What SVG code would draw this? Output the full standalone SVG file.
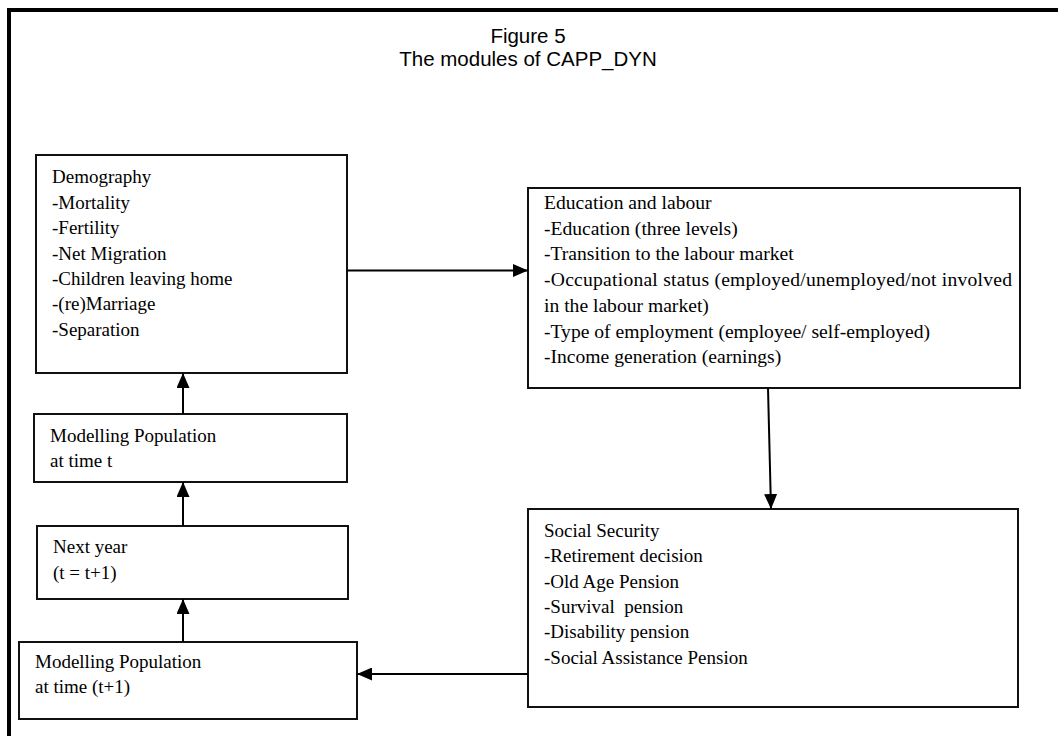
<svg xmlns="http://www.w3.org/2000/svg" width="1058" height="736" viewBox="0 0 1058 736">
  <defs>
    <style>
      .box { fill: #ffffff; stroke: #111111; stroke-width: 2; }
      .t { font-family: "Liberation Sans Narrow", "Liberation Serif", "Times New Roman", serif; font-family: "Liberation Serif", "Times New Roman", serif; font-size: 19px; fill: #000000; }
      .te { font-size: 19.6px; }
      .title { font-family: "Liberation Sans", Arial, sans-serif; font-size: 20.5px; fill: #000000; text-anchor: middle; }
      .conn { stroke: #000000; stroke-width: 2; fill: none; marker-end: url(#arrow); }
    </style>
    <marker id="arrow" viewBox="0 0 15 13" refX="15" refY="6.5" markerWidth="15" markerHeight="13" markerUnits="userSpaceOnUse" orient="auto">
      <path d="M0,0 L15,6.5 L0,13 Z" fill="#000000"/>
    </marker>
  </defs>
  <rect x="0" y="0" width="1058" height="736" fill="#ffffff"/>
  <g id="frame">
    <path d="M9,736 L9,10 L1058,10" fill="none" stroke="#000000" stroke-width="4"/>
  </g>
  <g id="title">
    <text class="title" x="528" y="43">Figure 5</text>
    <text class="title" x="528" y="66">The modules of CAPP_DYN</text>
  </g>
  <g id="demography">
    <rect class="box" x="36" y="155" width="311" height="218"/>
    <text class="t" x="52" y="183">Demography</text>
    <text class="t" x="52" y="208.5">-Mortality</text>
    <text class="t" x="52" y="234">-Fertility</text>
    <text class="t" x="52" y="259.5">-Net Migration</text>
    <text class="t" x="52" y="285">-Children leaving home</text>
    <text class="t" x="52" y="310">-(re)Marriage</text>
    <text class="t" x="52" y="335.5">-Separation</text>
  </g>
  <g id="education">
    <rect class="box" x="528" y="188" width="492" height="200"/>
    <text class="t te" x="544" y="209">Education and labour</text>
    <text class="t te" x="544" y="234.7">-Education (three levels)</text>
    <text class="t te" x="544" y="260.4">-Transition to the labour market</text>
    <text class="t te" x="544" y="286.1" textLength="468" lengthAdjust="spacing">-Occupational status (employed/unemployed/not involved</text>
    <text class="t te" x="544" y="311.8">in the labour market)</text>
    <text class="t te" x="544" y="337.5">-Type of employment (employee/ self-employed)</text>
    <text class="t te" x="544" y="363.2">-Income generation (earnings)</text>
  </g>
  <g id="pop-t">
    <rect class="box" x="34" y="414" width="313" height="68"/>
    <text class="t" x="50" y="441.5">Modelling Population</text>
    <text class="t" x="50" y="466.5">at time t</text>
  </g>
  <g id="next-year">
    <rect class="box" x="37" y="526" width="311" height="73"/>
    <text class="t" x="53" y="553">Next year</text>
    <text class="t" x="53" y="579">(t = t+1)</text>
  </g>
  <g id="pop-t1">
    <rect class="box" x="19" y="642" width="338" height="77"/>
    <text class="t" x="35" y="668">Modelling Population</text>
    <text class="t" x="35" y="693">at time (t+1)</text>
  </g>
  <g id="social-security">
    <rect class="box" x="528" y="509" width="490" height="198"/>
    <text class="t" x="544" y="537">Social Security</text>
    <text class="t" x="544" y="562">-Retirement decision</text>
    <text class="t" x="544" y="587.5">-Old Age Pension</text>
    <text class="t" x="544" y="612.5" xml:space="preserve">-Survival  pension</text>
    <text class="t" x="544" y="638">-Disability pension</text>
    <text class="t" x="544" y="663.5">-Social Assistance Pension</text>
  </g>
  <g id="connectors">
    <line class="conn" x1="347" y1="270.5" x2="528" y2="270.5"/>
    <line class="conn" x1="768" y1="388" x2="771" y2="509"/>
    <line class="conn" x1="528" y1="674" x2="357" y2="674"/>
    <line class="conn" x1="183" y1="526" x2="183" y2="482"/>
    <line class="conn" x1="183" y1="642" x2="183" y2="599"/>
    <line class="conn" x1="183" y1="414" x2="183" y2="373"/>
  </g>
</svg>
